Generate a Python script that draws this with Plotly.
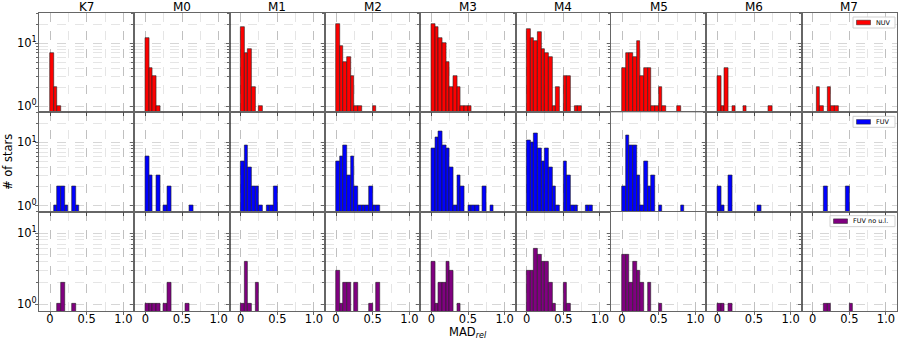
import math
import plotly.graph_objects as go
from plotly.subplots import make_subplots

# spectral types (columns) and histogram bin width in MAD_rel
spectral_types = ['K7', 'M0', 'M1', 'M2', 'M3', 'M4', 'M5', 'M6', 'M7']
bin_width = 0.05

# counts per bin, starting at MAD_rel = 0, one list per spectral type
nuv_counts = [
    [7, 2, 1],
    [12, 4, 3, 1],
    [18, 7, 8, 2, 0, 1],
    [20, 9, 5, 6, 3, 1, 1, 0, 0, 0, 1],
    [20, 18, 12, 10, 5, 2, 3, 2, 1, 1, 1],
    [17, 12, 11, 15, 8, 7, 6, 1, 2, 0, 3, 3, 0, 1, 1],
    [4, 7, 7, 6, 11, 3, 4, 4, 1, 1, 2, 1, 0, 0, 0, 1],
    [3, 1, 4, 0, 1, 0, 0, 1, 0, 0, 0, 0, 0, 0, 1],
    [0, 2, 1, 0, 2, 1, 1],
]
fuv_counts = [
    [0, 1, 2, 2, 1, 0, 2, 1],
    [6, 3, 0, 3, 0, 1, 2, 0, 0, 0, 0, 0, 1],
    [5, 9, 4, 2, 2, 1, 0, 1, 1, 2],
    [5, 6, 9, 3, 6, 2, 1, 1, 1, 2, 1, 1],
    [8, 12, 15, 9, 8, 4, 1, 3, 2, 0, 1, 1, 1, 0, 2, 0, 1],
    [11, 10, 14, 8, 5, 8, 4, 2, 1, 0, 5, 3, 1, 1, 0, 0, 1, 1],
    [2, 13, 9, 9, 3, 1, 5, 2, 3, 0, 1, 0, 0, 0, 0, 0, 1],
    [2, 1, 0, 3, 0, 0, 0, 0, 0, 0, 0, 1],
    [0, 0, 0, 2, 0, 0, 0, 0, 0, 2],
]
fuv_noul_counts = [
    [0, 0, 1, 2, 0, 0, 1],
    [1, 1, 1, 1, 0, 1, 2, 0, 0, 0, 0, 1],
    [1, 4, 1, 0, 2],
    [3, 1, 2, 2, 0, 2, 0, 0, 0, 1, 0, 2],
    [4, 1, 2, 2, 4, 3, 0, 1],
    [3, 3, 6, 5, 4, 4, 2, 1, 0, 0, 2, 1],
    [5, 5, 2, 4, 3, 2, 0, 2, 0, 0, 1],
    [1, 1, 0, 1],
    [0, 0, 0, 1, 1, 0, 0, 0, 0, 0, 1],
]

band_names = ['NUV', 'FUV', 'FUV no u.l.']
band_colors = ['#ff0000', '#0000ff', '#800080']
band_counts = [nuv_counts, fuv_counts, fuv_noul_counts]
y_tops = [30, 30, 20]

FONT = 'DejaVu Sans'
GRID = 'rgba(0,0,0,0.16)'
MINOR_GRID = 'rgba(0,0,0,0.10)'
W, H = 900, 340
ML, MR, MT, MB = 39, 3, 13, 29

fig = make_subplots(rows=3, cols=9, shared_xaxes=True, shared_yaxes=True,
                    horizontal_spacing=0, vertical_spacing=0)

for r in range(3):
    for c in range(9):
        cnt = band_counts[r][c]
        x = [bin_width * (i + 0.5) for i in range(len(cnt))]
        y = [v if v > 0 else None for v in cnt]
        fig.add_trace(go.Bar(x=x, y=y, width=bin_width, name=band_names[r],
                             marker=dict(color=band_colors[r],
                                         line=dict(color='#222', width=0.6)),
                             showlegend=False),
                      row=r + 1, col=c + 1)

fig.update_xaxes(range=[-0.15, 1.15], tickvals=[0, 0.5, 1.0], ticktext=['0', '0.5', '1.0'],
                 showline=True, mirror=True, linecolor='#666', linewidth=1,
                 ticks='outside', ticklen=3, tickcolor='#666', zeroline=False,
                 ticklabelstandoff=-6,
                 showgrid=True, gridcolor=GRID, griddash='dash', gridwidth=0.8,
                 minor=dict(tick0=0, dtick=0.25, showgrid=True, gridcolor=MINOR_GRID,
                            griddash='dash', gridwidth=0.8),
                 tickfont=dict(size=11.5, color='black', family=FONT),
                 showticklabels=False)
fig.update_xaxes(showticklabels=True, row=3)

minor_vals = [2, 3, 4, 5, 6, 7, 8, 9, 20, 30]
for r in range(3):
    fig.update_yaxes(type='log', range=[math.log10(0.8), math.log10(y_tops[r])],
                     tickvals=[1, 10], ticktext=['10<sup>0</sup>', '10<sup>1</sup>'],
                     showline=True, mirror=True, linecolor='#666', linewidth=1,
                     ticks='outside', ticklen=3, tickcolor='#666', zeroline=False,
                     ticklabelstandoff=-4,
                     showgrid=True, gridcolor=GRID, griddash='dash', gridwidth=0.8,
                     minor=dict(tickvals=minor_vals, ticks='outside', ticklen=2,
                                tickcolor='#666', showgrid=True, gridcolor=MINOR_GRID,
                                griddash='dash', gridwidth=0.8),
                     tickfont=dict(size=11.5, color='black', family=FONT),
                     showticklabels=False, row=r + 1)
fig.update_yaxes(showticklabels=True, col=1)


def px_x(p):
    return (p - ML) / (W - ML - MR)


def px_y(p):
    return (H - MB - p) / (H - MT - MB)


annotations = []
shapes = []
for c, sp in enumerate(spectral_types):
    annotations.append(dict(text=sp, x=(c + 0.5) / 9, y=px_y(7), xref='paper', yref='paper',
                            xanchor='center', yanchor='middle', showarrow=False,
                            font=dict(size=12, family=FONT, color='black')))
annotations.append(dict(text='# of stars', x=px_x(8), y=0.5, xref='paper', yref='paper',
                        textangle=-90, showarrow=False, xanchor='center', yanchor='middle',
                        font=dict(size=11.5, family=FONT, color='black')))
annotations.append(dict(text='MAD<sub><i>rel</i></sub>', x=0.5, y=px_y(332), xref='paper',
                        yref='paper', showarrow=False, xanchor='center', yanchor='middle',
                        font=dict(size=11.5, family=FONT, color='black')))

# small legend box in the top right corner of each row
row_h = (H - MT - MB) / 3
box_right = 895
box_w = [42, 42, 65]
for r in range(3):
    top = MT + r * row_h + 4
    bottom = top + 11
    left = box_right - box_w[r]
    shapes.append(dict(type='rect', xref='paper', yref='paper',
                       x0=px_x(left), x1=px_x(box_right), y0=px_y(bottom), y1=px_y(top),
                       line=dict(color='#d0d0d0', width=1), fillcolor='rgba(255,255,255,0.9)'))
    mid = (top + bottom) / 2
    shapes.append(dict(type='rect', xref='paper', yref='paper',
                       x0=px_x(left + 3.5), x1=px_x(left + 17.5),
                       y0=px_y(mid + 2.3), y1=px_y(mid - 2.3),
                       line=dict(color='#222', width=0.5), fillcolor=band_colors[r]))
    annotations.append(dict(text=band_names[r], x=px_x(left + 21), y=px_y(mid), xref='paper',
                            yref='paper', xanchor='left', yanchor='middle', showarrow=False,
                            font=dict(size=6.5, family=FONT, color='black')))

fig.update_layout(
    width=W, height=H,
    margin=dict(l=ML, r=MR, t=MT, b=MB),
    paper_bgcolor='white', plot_bgcolor='white',
    bargap=0, barmode='overlay', showlegend=False,
    font=dict(family=FONT, color='black'),
    annotations=annotations,
    shapes=shapes,
)

fig.write_html('out.html', config={'displayModeBar': False},
               post_script="document.body.style.margin='0';")
